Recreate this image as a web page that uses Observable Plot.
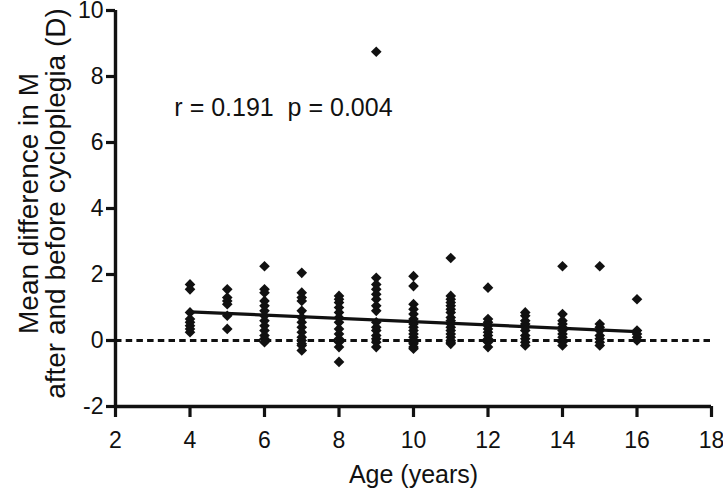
<!DOCTYPE html>
<html>
<head>
<meta charset="utf-8">
<script src="https://cdn.jsdelivr.net/npm/d3@7"></script>
<script src="https://cdn.jsdelivr.net/npm/@observablehq/plot@0.6"></script>
<style>
  html, body { margin: 0; padding: 0; background: #fff; }
</style>
</head>
<body>
<div id="chart"></div>
<script>
// Ages (x) and mean differences (y)
const ages = [
  4,4,4,4,4,4,4,4,
  5,5,5,5,5,5,
  6,6,6,6,6,6,6,6,6,6,6,6,6,
  7,7,7,7,7,7,7,7,7,7,7,7,7,7,
  8,8,8,8,8,8,8,8,8,8,8,8,8,
  9,9,9,9,9,9,9,9,9,9,9,9,9,9,9,
  10,10,10,10,10,10,10,10,10,10,10,10,10,10,10,10,
  11,11,11,11,11,11,11,11,11,11,11,11,11,11,11,11,11,
  12,12,12,12,12,12,12,12,12,12,
  13,13,13,13,13,13,13,13,13,13,
  14,14,14,14,14,14,14,14,14,14,14,
  15,15,15,15,15,15,15,15,
  16,16,16,16,16
];
const diffs = [
  1.7, 1.55, 0.85, 0.65, 0.55, 0.45, 0.35, 0.25,
  1.55, 1.3, 1.2, 1.1, 0.75, 0.35,
  2.25, 1.55, 1.45, 1.2, 1.05, 0.9, 0.75, 0.6, 0.45, 0.3, 0.15, 0.05, -0.05,
  2.05, 1.45, 1.3, 1.2, 0.9, 0.7, 0.55, 0.4, 0.25, 0.1, 0.0, -0.1, -0.15, -0.3,
  1.35, 1.25, 1.15, 1.0, 0.85, 0.7, 0.55, 0.35, 0.2, 0.05, -0.05, -0.2, -0.65,
  8.75, 1.9, 1.7, 1.55, 1.4, 1.25, 1.05, 0.9, 0.55, 0.4, 0.3, 0.15, 0.05, -0.05, -0.2,
  1.95, 1.65, 1.1, 0.95, 0.8, 0.65, 0.5, 0.4, 0.3, 0.2, 0.1, 0.0, -0.05, -0.1, -0.2, -0.25,
  2.5, 1.35, 1.25, 1.15, 1.05, 0.95, 0.85, 0.7, 0.6, 0.5, 0.4, 0.3, 0.2, 0.1, 0.0, -0.05, -0.1,
  1.6, 0.65, 0.55, 0.45, 0.35, 0.25, 0.15, 0.05, -0.05, -0.2,
  0.85, 0.75, 0.6, 0.5, 0.4, 0.3, 0.15, 0.05, -0.05, -0.15,
  2.25, 0.8, 0.6, 0.5, 0.4, 0.3, 0.2, 0.1, 0.0, -0.05, -0.15,
  2.25, 0.5, 0.4, 0.3, 0.15, 0.05, -0.05, -0.15,
  1.25, 0.3, 0.2, 0.1, 0.0
];
// Fitted regression line endpoints as drawn in the figure
const fitAges = [4, 16];
const fitValues = [0.87, 0.27];

const xTicks = [2, 4, 6, 8, 10, 12, 14, 16, 18];
const yTicks = [-2, 0, 2, 4, 6, 8, 10];
const xLabel = "Age (years)";
const yLabelLines = ["Mean difference in M", "after and before cycloplegia (D)"];
const annotation = "r = 0.191\u00a0\u00a0p = 0.004";
const annotationPos = {x: 3.58, y: 7.06};

const points = ages.map((a, i) => ({age: a, diff: diffs[i]}));
const fit = fitAges.map((a, i) => ({age: a, diff: fitValues[i]}));

const chart = Plot.plot({
  width: 723,
  height: 492,
  marginLeft: 115,
  marginRight: 12,
  marginTop: 10,
  marginBottom: 86,
  x: {domain: [2, 18]},
  y: {domain: [-2, 10]},
  style: {
    fontFamily: "'Liberation Sans', Arial, Helvetica, sans-serif",
    fontSize: "23px",
    color: "#111",
    background: "#fff"
  },
  marks: [
    Plot.ruleY([0], {stroke: "#111", strokeWidth: 3.2, strokeDasharray: "6.5,4.2"}),
    Plot.axisX({ticks: xTicks, tickSize: 11, tickPadding: 14, stroke: "#111", strokeWidth: 3.2, fontSize: 23, label: null, tickFormat: d => String(d)}),
    Plot.axisY({ticks: yTicks, tickSize: 9, tickPadding: 3, stroke: "#111", strokeWidth: 3.2, fontSize: 23, label: null, tickFormat: d => String(d)}),
    Plot.ruleX([2], {stroke: "#111", strokeWidth: 3.4}),
    Plot.ruleY([-2], {stroke: "#111", strokeWidth: 3.4}),
    Plot.line(fit, {x: "age", y: "diff", stroke: "#111", strokeWidth: 3.2}),
    Plot.dot(points, {x: "age", y: "diff", symbol: "diamond2", r: 4.8, fill: "#111", stroke: "none"}),
    Plot.text([annotation], {x: () => annotationPos.x, y: () => annotationPos.y, text: d => d, textAnchor: "start", fontSize: 25, fill: "#111"}),
    Plot.text([xLabel], {frameAnchor: "bottom", dy: 76, text: d => d, textAnchor: "middle", fontSize: 25, fill: "#111"}),
    Plot.text([yLabelLines[0]], {frameAnchor: "left", dx: 29 - 115, dy: -5, rotate: -90, text: d => d, textAnchor: "middle", fontSize: 28, fill: "#111"}),
    Plot.text([yLabelLines[1]], {frameAnchor: "left", dx: 56 - 115, dy: -5, rotate: -90, text: d => d, textAnchor: "middle", fontSize: 28, fill: "#111"})
  ]
});
document.getElementById("chart").append(chart);
</script>
</body>
</html>
